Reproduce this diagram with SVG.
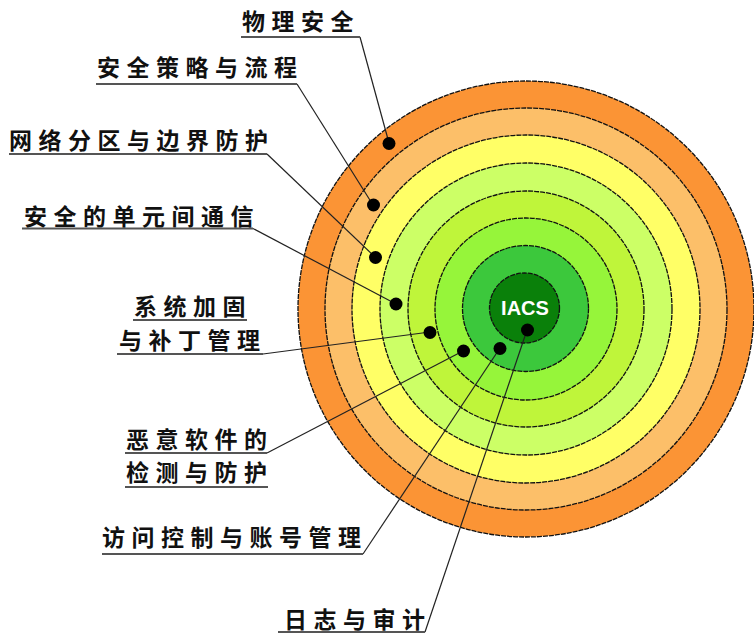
<svg xmlns="http://www.w3.org/2000/svg" width="754" height="634" viewBox="0 0 754 634">
<style>
.ring{stroke:#111;stroke-width:1.3;stroke-dasharray:5 1}
.lbl{font-family:"Noto Sans CJK SC","Noto Sans",sans-serif;font-size:23px;letter-spacing:6.5px;fill:#111;font-weight:bold}
.ul{stroke:#555;stroke-width:2;fill:none}
.lead{stroke:#222;stroke-width:1.2;fill:none}
.dot{fill:#000}
.iacs{font-family:"Liberation Sans",Arial,sans-serif;font-size:20px;font-weight:bold;fill:#fff;text-anchor:middle}
</style>
<rect width="754" height="634" fill="#fff"/>
<g id="rings">
<circle class="ring" cx="526" cy="309" r="228" fill="#FB9435"/>
<circle class="ring" cx="526" cy="309" r="201" fill="#FCBF69"/>
<circle class="ring" cx="526" cy="309" r="174" fill="#FFFF66"/>
<circle class="ring" cx="526" cy="309" r="146" fill="#CCFF66"/>
<circle class="ring" cx="526" cy="309" r="118" fill="#BFF53A"/>
<circle class="ring" cx="526" cy="309" r="91" fill="#96F53A"/>
<circle class="ring" cx="525.5" cy="308.5" r="63" fill="#3CC83C"/>
<circle class="ring" cx="524.5" cy="308" r="35" fill="#0A800A"/>
</g>
<g id="iacs"><text class="iacs" x="525" y="315">IACS</text></g>
<g id="connectors">
<line class="lead" x1="360" y1="37" x2="389" y2="143"/>
<line class="lead" x1="297" y1="84" x2="373" y2="205"/>
<line class="lead" x1="267" y1="154" x2="375" y2="257"/>
<line class="lead" x1="253" y1="228.5" x2="396" y2="304"/>
<line class="lead" x1="263" y1="354" x2="430" y2="332"/>
<line class="lead" x1="267" y1="453" x2="463" y2="351"/>
<line class="lead" x1="363" y1="554" x2="500" y2="348"/>
<line class="lead" x1="425" y1="632" x2="527" y2="330"/>
</g>
<g id="dots">
<circle class="dot" cx="389" cy="143.5" r="6.5"/>
<circle class="dot" cx="373.5" cy="205" r="6.5"/>
<circle class="dot" cx="375.5" cy="257.5" r="6.5"/>
<circle class="dot" cx="396" cy="304" r="6.5"/>
<circle class="dot" cx="430" cy="332.5" r="6.5"/>
<circle class="dot" cx="463.5" cy="351" r="6.5"/>
<circle class="dot" cx="500" cy="348.5" r="6.5"/>
<circle class="dot" cx="527.5" cy="330" r="6.5"/>
</g>
<g id="n1"><text class="lbl" x="242" y="30">物理安全</text><line class="ul" x1="241" y1="37" x2="360" y2="37"/></g>
<g id="n2"><text class="lbl" x="97" y="76">安全策略与流程</text><line class="ul" x1="96" y1="84" x2="297" y2="84"/></g>
<g id="n3"><text class="lbl" x="9" y="149">网络分区与边界防护</text><line class="ul" x1="9" y1="154" x2="267" y2="154"/></g>
<g id="n4"><text class="lbl" x="24" y="225">安全的单元间通信</text><line class="ul" x1="22" y1="228.5" x2="253" y2="228.5"/></g>
<g id="n5"><text class="lbl" x="134" y="315">系统加固</text><line class="ul" x1="133" y1="320" x2="247" y2="320"/><text class="lbl" x="119" y="349">与补丁管理</text><line class="ul" x1="117" y1="354" x2="263" y2="354"/></g>
<g id="n6"><text class="lbl" x="126" y="448">恶意软件的</text><line class="ul" x1="125" y1="453" x2="267" y2="453"/><text class="lbl" x="126" y="481">检测与防护</text><line class="ul" x1="125" y1="487" x2="268" y2="487"/></g>
<g id="n7"><text class="lbl" x="102" y="546">访问控制与账号管理</text><line class="ul" x1="102" y1="554" x2="363" y2="554"/></g>
<g id="n8"><text class="lbl" x="284" y="628">日志与审计</text><line class="ul" x1="278" y1="632" x2="425" y2="632"/></g>
</svg>
